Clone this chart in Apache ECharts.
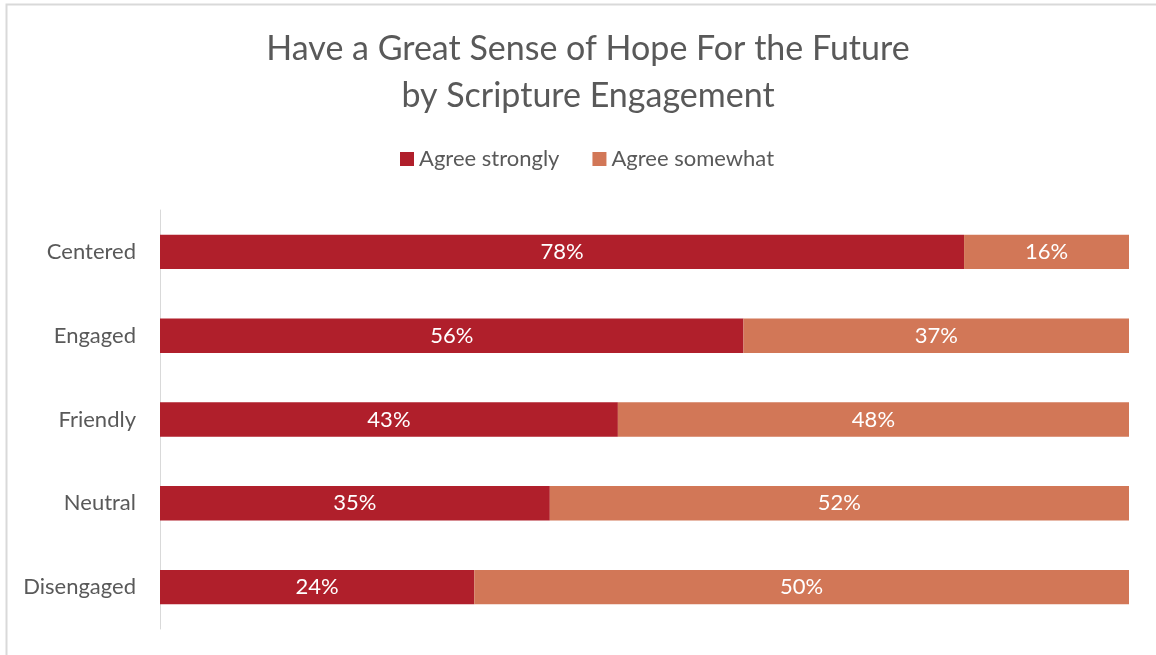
<!DOCTYPE html>
<html>
<head>
<meta charset="utf-8">
<style>
  html, body { margin: 0; padding: 0; background: #fff; }
  #chart { width: 1156px; height: 655px; }
</style>
<script src="https://cdn.jsdelivr.net/npm/echarts@6/dist/echarts.min.js"></script>
</head>
<body>
<div id="chart"></div>
<script>
// Engagement groups, top to bottom
const categories = ['Centered', 'Engaged', 'Friendly', 'Neutral', 'Disengaged'];
// Percent of each group answering
const agreeStrongly = [78, 56, 43, 35, 24];
const agreeSomewhat = [16, 37, 48, 52, 50];
const seriesNames = ['Agree strongly', 'Agree somewhat'];

const FONT = 'Lato';
const GREY = '#595959';

// Bars fill the full width: each answer as a share of the two answers combined
const totals = agreeStrongly.map((v, i) => v + agreeSomewhat[i]);
const share = arr => arr.map((v, i) => ({ value: v / totals[i] * 100, raw: v }));

const chart = echarts.init(document.getElementById('chart'), null, { renderer: 'canvas' });

const makeSeries = (name, arr, color) => ({
  name: name,
  type: 'bar',
  stack: 'total',
  data: share(arr),
  barCategoryGap: '59%',
  itemStyle: { color: color },
  label: {
    show: true,
    position: 'inside',
    color: '#fff',
    fontFamily: FONT,
    fontSize: 22,
    formatter: p => p.data.raw + '%'
  },
  emphasis: { disabled: true }
});

chart.setOption({
  animation: false,
  backgroundColor: '#fff',
  textStyle: { fontFamily: FONT },
  title: {
    text: 'Have a Great Sense of Hope For the Future\nby Scripture Engagement',
    left: 583,
    top: 21,
    textAlign: 'center',
    textStyle: { fontFamily: FONT, fontSize: 34, fontWeight: 'normal', color: GREY, lineHeight: 47 }
  },
  legend: {
    top: 143,
    left: 395,
    itemWidth: 14,
    itemHeight: 14,
    itemGap: 33,
    icon: 'rect',
    textStyle: { fontFamily: FONT, fontSize: 22, color: GREY },
    data: seriesNames
  },
  grid: { left: 160, right: 27, top: 210, bottom: 26, containLabel: false },
  xAxis: {
    type: 'value',
    min: 0,
    max: 100,
    show: false
  },
  yAxis: {
    type: 'category',
    data: categories,
    inverse: true,
    axisLine: { show: true, lineStyle: { color: '#d9d9d9', width: 1 } },
    axisTick: { show: false },
    axisLabel: { fontFamily: FONT, fontSize: 22, color: GREY, margin: 24 }
  },
  graphic: [
    // frame line along the top and left edges
    {
      type: 'polyline',
      shape: { points: [[6.5, 660], [6.5, 4.5], [1160, 4.5]] },
      style: { stroke: '#d9d9d9', lineWidth: 2, fill: null },
      silent: true
    }
  ],
  series: [
    makeSeries(seriesNames[0], agreeStrongly, '#b01f2b'),
    makeSeries(seriesNames[1], agreeSomewhat, '#d27757')
  ]
});
</script>
</body>
</html>
